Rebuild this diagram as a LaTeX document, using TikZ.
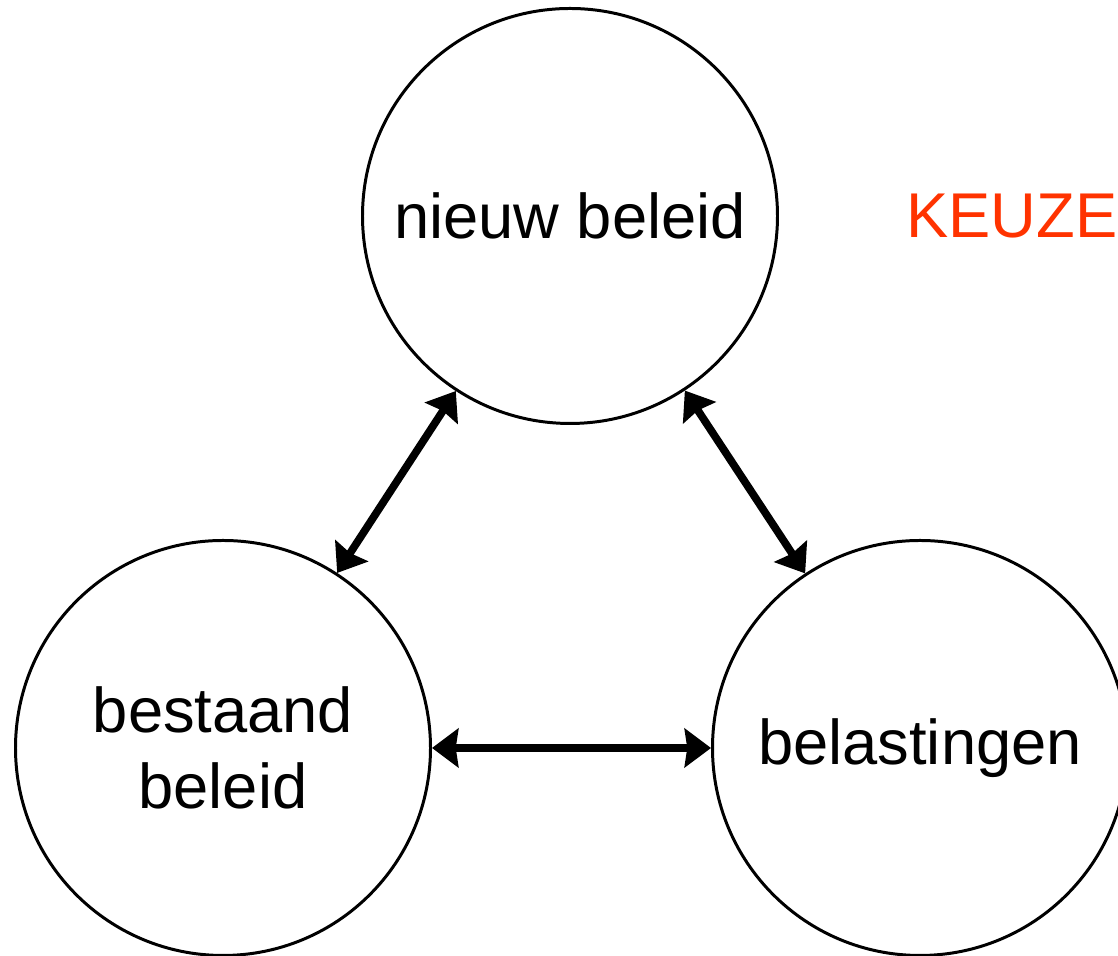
\documentclass[tikz,border=0pt]{standalone}
\usepackage{fontspec}
\setmainfont{Liberation Sans}
\usetikzlibrary{arrows.meta}
\definecolor{keuzerood}{RGB}{255,51,0}

\begin{document}
\begin{tikzpicture}[
    <->, >={Stealth[length=15pt, width=22pt, inset=1.5pt]},
    line width=4.4pt,
    beleid/.style={circle, draw, line width=1.7pt, minimum size=8.3cm,
        inner sep=0pt, align=center, font=\fontsize{36}{43}\selectfont}
]

    % Canvas of the reference
    \useasboundingbox (0,0) rectangle (22.36,19.12);

    % The three policy circles
    \node[beleid] (nieuw) at (11.40,14.80) {nieuw beleid};
    \node[beleid] (bestaand) at (4.46,4.16) {bestaand\\beleid};
    \node[beleid] (belasting) at (18.40,4.16) {belastingen};

    % Two-way links
    \draw (nieuw) -- (bestaand);
    \draw (nieuw) -- (belasting);
    \draw (bestaand) -- (belasting);

    % Label on the right
    \node[text=keuzerood, font=\fontsize{36}{43}\selectfont, anchor=west,
        inner sep=0pt] (keuze) at (18.05,14.80) {KEUZE};

\end{tikzpicture}
\end{document}
